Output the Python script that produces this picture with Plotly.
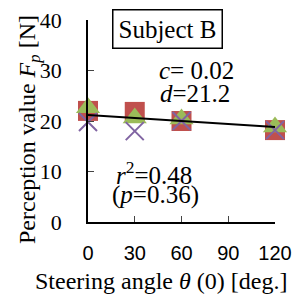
import plotly.graph_objects as go

angles = [0, 30, 60, 120]
series_square = [22.0, 21.8, 20.0, 18.2]
series_triangle = [22.6, 20.6, 20.4, 18.8]
series_cross = [19.8, 18.0, 20.0, 18.2]
fit_x = [0, 120]
fit_y = [21.2, 18.8]
x_ticks = [0, 30, 60, 90, 120]
y_ticks = [0, 10, 20, 30, 40]

SERIF = "Times New Roman, Liberation Serif, serif"
SANS = "Arial, Liberation Sans, sans-serif"

W, H = 297, 297
L, R, T, B = 88, 22, 20, 75

fig = go.Figure()
fig.add_trace(go.Scatter(x=angles, y=series_square, mode="markers",
    marker=dict(symbol="square", size=20, color="#C0504D"), cliponaxis=False))
fig.add_trace(go.Scatter(x=angles, y=series_triangle, mode="markers",
    marker=dict(symbol="triangle-up", size=21, color="#9BBB59"), cliponaxis=False))
fig.add_trace(go.Scatter(x=angles, y=series_cross, mode="markers",
    marker=dict(symbol="x-thin", size=18, line=dict(color="#8064A2", width=2)), cliponaxis=False))
fig.add_trace(go.Scatter(x=fit_x, y=fit_y, mode="lines",
    line=dict(color="black", width=2), cliponaxis=False))


def px2paper(px, py):
    return (px - L) / (W - L - R), 1 - (py - T) / (H - T - B)


def ann(px, py, text, size=24, family=SERIF, **kw):
    x, y = px2paper(px, py)
    d = dict(x=x, y=y, xref="paper", yref="paper", text=text, showarrow=False,
             xanchor="center", yanchor="middle",
             font=dict(family=family, size=size, color="black"))
    d.update(kw)
    return d


fig.update_layout(
    width=W, height=H,
    margin=dict(l=L, r=R, t=T, b=B),
    plot_bgcolor="white", paper_bgcolor="white",
    showlegend=False,
    xaxis=dict(range=[0, 120], tickvals=x_ticks, ticks="inside", ticklen=6,
               showline=True, linecolor="black", linewidth=1.5, showgrid=False,
               zeroline=False, automargin=False,
               tickfont=dict(family=SANS, size=20, color="black"),
               ticklabelstandoff=12),
    yaxis=dict(range=[0, 40], tickvals=y_ticks, ticks="inside", ticklen=6,
               showline=True, linecolor="black", linewidth=1.5, showgrid=False,
               zeroline=False, automargin=False,
               tickfont=dict(family=SERIF, size=22, color="black"),
               ticklabelstandoff=20),
    annotations=[
        ann(167, 29, "Subject B", size=25, bordercolor="black", borderwidth=1.5, borderpad=5),
        ann(196, 70, "<i>c</i>= 0.02", size=25),
        ann(195, 93, "<i>d</i>=21.2", size=25),
        ann(154, 173, "<i>r</i><sup>2</sup>=0.48", size=25),
        ann(155, 195, "(<i>p</i>=0.36)", size=25),
        ann(161, 281, "Steering angle <i>θ</i> (0) [deg.]"),
        ann(29, 130, "Perception value <i>F<sub>p</sub></i> [N]", textangle=-90),
    ],
)

fig.write_html("out.html", config={"displayModeBar": False},
               post_script="document.body.style.margin='0';document.body.style.overflow='hidden';")
